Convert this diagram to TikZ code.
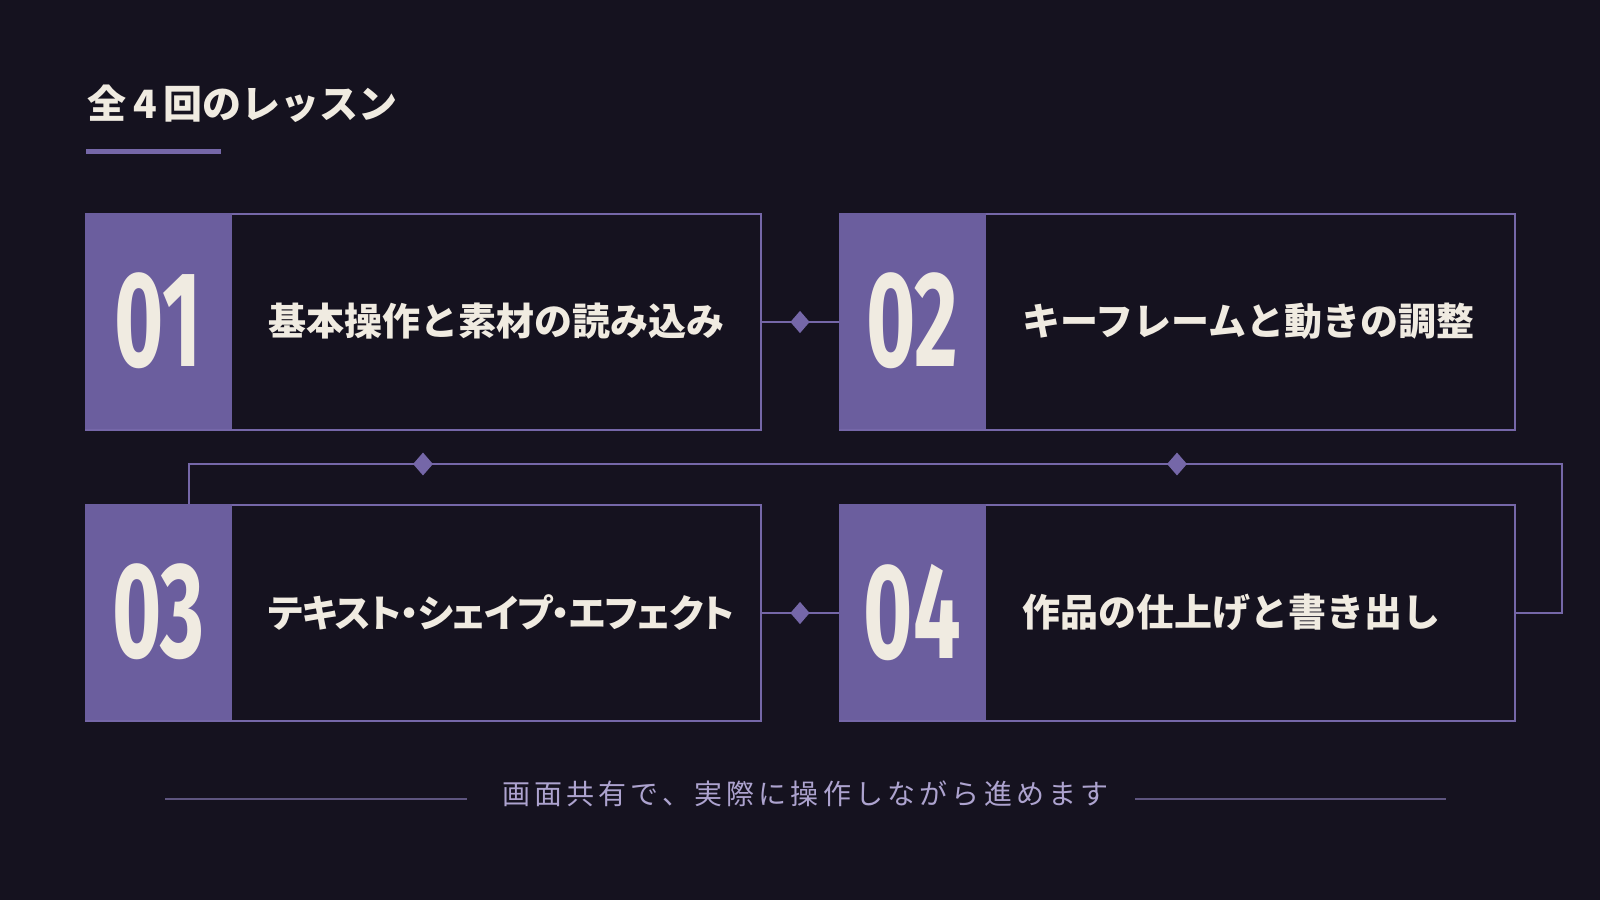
\documentclass[tikz,border=0pt]{standalone}
\usepackage{fontspec}
\usetikzlibrary{positioning, shapes.geometric, calc}
\newfontfamily\jpfont{Noto Sans CJK JP}
\newfontfamily\numfont{Fira Sans}
\definecolor{bgdark}{HTML}{15121F}
\definecolor{blockpurple}{HTML}{6B5E9E}
\definecolor{linepurple}{HTML}{7567A8}
\definecolor{cream}{HTML}{F0EBE1}
\definecolor{notepurple}{HTML}{ADA3CF}
\definecolor{rulepurple}{HTML}{5E557F}

\begin{document}
\begin{tikzpicture}[
            x=1pt, y=-1pt,
            card/.style={draw=linepurple, line width=2pt, minimum width=675pt,
                minimum height=216pt, inner sep=0pt},
            numbox/.style={fill=blockpurple, minimum width=147pt, minimum height=216pt,
                inner sep=0pt, anchor=north west, text=cream,
                font=\numfont\bfseries\fontsize{136}{136}\selectfont},
            cardtext/.style={text=cream, inner sep=0pt,
                font=\jpfont\bfseries\fontsize{38}{38}\selectfont},
            link/.style={draw=linepurple, line width=2pt},
            dmd/.style={diamond, fill=linepurple, minimum width=20pt,
                minimum height=23pt, inner sep=0pt}
        ]
        \fill[bgdark] (0,0) rectangle (1600,900);

        % title
        \node[anchor=west, text=cream, inner sep=0pt,
            font=\jpfont\bfseries\fontsize{39}{39}\selectfont] (title) at (87,104)
            {全\hspace{7pt}4\hspace{7pt}回のレッスン};
        \draw[line width=5pt, draw=linepurple] (86,151) -- (221,151);

        % cards
        \node[card] (c1) at (423,322) {};
        \node[card] (c2) at (1177,322) {};
        \node[card] (c3) at (423,613) {};
        \node[card] (c4) at (1177,613) {};

        \node[numbox] (n1) at (c1.north west) {\scalebox{0.62}[1]{01}};
        \node[numbox] (n2) at (c2.north west) {\scalebox{0.62}[1]{02}};
        \node[numbox] (n3) at (c3.north west) {\scalebox{0.62}[1]{03}};
        \node[numbox] (n4) at (c4.north west) {\scalebox{0.62}[1]{04}};

        \node[cardtext, right=36pt of n1] (t1) {基本操作と素材の読み込み};
        \node[cardtext, right=36pt of n2] (t2) {キーフレームと動きの調整};
        \node[cardtext, right=36pt of n3] (t3)
            {\addfontfeatures{RawFeature=+palt, LetterSpace=-3}テキスト・シェイプ・エフェクト};
        \node[cardtext, right=36pt of n4] (t4) {作品の仕上げと書き出し};

        % connectors
        \draw[link] (c1) -- node[dmd]{} (c2);
        \draw[link] (c3) -- node[dmd]{} (c4);
        \coordinate (loop r) at (1562,464);
        \coordinate (loop l) at ([xshift=31pt]n3.north |- 0,464);
        \draw[link] (c4.east) -| (loop r) -- (loop l) -- ([xshift=31pt]n3.north);
        \node[dmd] at (c3 |- loop l) {};
        \node[dmd] at (c4 |- loop l) {};

        % footer
        \node[anchor=west, text=notepurple, inner sep=0pt,
            font=\jpfont\addfontfeatures{LetterSpace=15}\fontsize{28}{28}\selectfont]
            (note) at (502,794) {画面共有で、実際に操作しながら進めます};
        \draw[line width=1.5pt, draw=rulepurple] ([xshift=-35pt,yshift=-5pt]note.west) -- ++(-302,0);
        \draw[line width=1.5pt, draw=rulepurple] ([xshift=26pt,yshift=-5pt]note.east) -- ++(311,0);
    \end{tikzpicture}
\end{document}
